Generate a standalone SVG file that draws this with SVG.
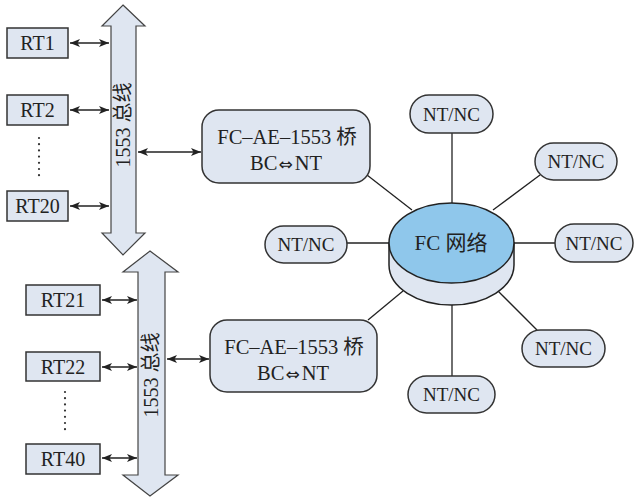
<svg xmlns="http://www.w3.org/2000/svg" width="637" height="499" viewBox="0 0 637 499">
<style>
.box{fill:#dfe6f1;stroke:#333;stroke-width:1.5}
.bus{fill:#dfe6f1;stroke:#444;stroke-width:1.2}
.ln{stroke:#222;stroke-width:1.3;fill:none}
.ar{stroke:#222;stroke-width:1.3;fill:none;marker-start:url(#ah);marker-end:url(#ah)}
.dot{stroke:#333;stroke-width:2.2;stroke-linecap:round;stroke-dasharray:0 6.2;fill:none}
text{font-family:"Liberation Serif","Times New Roman","DejaVu Serif",serif;fill:#222;text-anchor:middle}
.cjk{font-family:"Noto Sans CJK SC","Noto Sans CJK TC",sans-serif}
.sym{font-family:"DejaVu Sans",sans-serif;font-size:17px}
.t{font-size:20px}
.b{font-size:20.5px}
.n{font-size:19px}
</style>
<defs>
<marker id="ah" viewBox="0 0 10 8" refX="10" refY="4" markerWidth="10" markerHeight="8" markerUnits="userSpaceOnUse" orient="auto-start-reverse">
<path d="M0,0 L10,4 L0,8 L2.5,4 Z" fill="#222"/>
</marker>
</defs>
<g id="connectors">
<line class="ar" x1="70" y1="43" x2="109" y2="43"/>
<line class="ar" x1="70" y1="110" x2="109" y2="110"/>
<line class="ar" x1="70" y1="206" x2="109" y2="206"/>
<line class="ar" x1="138" y1="152" x2="201" y2="152"/>
<line class="ar" x1="102" y1="300" x2="137" y2="300"/>
<line class="ar" x1="102" y1="367" x2="137" y2="367"/>
<line class="ar" x1="102" y1="458" x2="137" y2="458"/>
<line class="ar" x1="167" y1="359" x2="209" y2="359"/>
<line class="ln" x1="452" y1="133" x2="452" y2="205"/>
<line class="ln" x1="540" y1="175" x2="493" y2="210"/>
<line class="ln" x1="347" y1="243" x2="390" y2="243"/>
<line class="ln" x1="513" y1="243" x2="555" y2="243"/>
<line class="ln" x1="537" y1="330" x2="498" y2="291"/>
<line class="ln" x1="452" y1="304" x2="452" y2="376"/>
<line class="ln" x1="367" y1="175" x2="412" y2="210"/>
<line class="ln" x1="368" y1="320" x2="403" y2="291"/>
<line class="dot" x1="39" y1="138" x2="39" y2="176"/>
<line class="dot" x1="65" y1="392" x2="65" y2="430"/>
</g>
<g id="bus1">
<polygon class="bus" points="123,5 145,26 136,26 136,233 145,233 123,255 102,233 111,233 111,26 102,26"/>
<text class="t" transform="translate(130,125) rotate(-90)">1553 <tspan class="cjk">总线</tspan></text>
</g>
<g id="bus2">
<polygon class="bus" points="150,251 178,272 165,272 165,475 178,475 150,496 123,475 138,475 138,272 123,272"/>
<text class="t" transform="translate(158,375) rotate(-90)">1553 <tspan class="cjk">总线</tspan></text>
</g>
<g id="rt1"><rect class="box" x="7" y="28" width="61" height="30"/><text class="t" x="37.5" y="50">RT1</text></g>
<g id="rt2"><rect class="box" x="7" y="95" width="61" height="30"/><text class="t" x="37.5" y="117">RT2</text></g>
<g id="rt20"><rect class="box" x="7" y="191" width="61" height="30"/><text class="t" x="37.5" y="213">RT20</text></g>
<g id="rt21"><rect class="box" x="26" y="285" width="74" height="30"/><text class="t" x="63" y="307">RT21</text></g>
<g id="rt22"><rect class="box" x="26" y="352" width="74" height="29"/><text class="t" x="63" y="374">RT22</text></g>
<g id="rt40"><rect class="box" x="26" y="444" width="74" height="30"/><text class="t" x="63" y="466">RT40</text></g>
<g id="bridge1">
<rect class="box" x="202" y="110" width="168" height="73" rx="17"/>
<text class="b" x="287" y="144">FC–AE–1553 <tspan class="cjk">桥</tspan></text>
<text class="b" x="286" y="170">BC<tspan class="sym" dx="1">⇔</tspan><tspan dx="2">NT</tspan></text>
</g>
<g id="bridge2">
<rect class="box" x="210" y="320" width="167" height="72" rx="17"/>
<text class="b" x="294" y="354">FC–AE–1553 <tspan class="cjk">桥</tspan></text>
<text class="b" x="293" y="380">BC<tspan class="sym" dx="1">⇔</tspan><tspan dx="2">NT</tspan></text>
</g>
<g id="fc">
<path d="M389,243 L389,265 A62.5,40 0 0 0 514,265 L514,243 Z" fill="#dfe6f1" stroke="#222" stroke-width="1.5"/>
<ellipse cx="451.5" cy="243" rx="62.5" ry="40" fill="#8fc7eb" stroke="#222" stroke-width="1.5"/>
<text x="451" y="250" style="font-size:21px">FC <tspan class="cjk">网络</tspan></text>
</g>
<g id="nt1"><rect class="box" x="410" y="95" width="83" height="38" rx="19"/><text class="n" x="451.5" y="120.5">NT/NC</text></g>
<g id="nt2"><rect class="box" x="535" y="143" width="82" height="37" rx="18.5"/><text class="n" x="576" y="168">NT/NC</text></g>
<g id="nt3"><rect class="box" x="265" y="226" width="82" height="37" rx="18.5"/><text class="n" x="306" y="251">NT/NC</text></g>
<g id="nt4"><rect class="box" x="555" y="224" width="78" height="38" rx="19"/><text class="n" x="594" y="249.5">NT/NC</text></g>
<g id="nt5"><rect class="box" x="522" y="330" width="83" height="37" rx="18.5"/><text class="n" x="563.5" y="355">NT/NC</text></g>
<g id="nt6"><rect class="box" x="408" y="376" width="87" height="37" rx="18.5"/><text class="n" x="451.5" y="401">NT/NC</text></g>
</svg>
